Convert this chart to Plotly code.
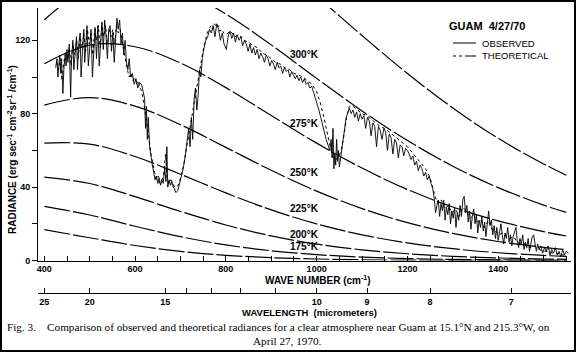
import plotly.graph_objects as go

# ---------------- data ----------------
obs_wn = [425,428,430,432,434,436,438,441,443,446,448,450,452,455,458,460,463,465,468,471,473,476,479,481,484,487,489,492,494,497,
          500,503,506,509,512,515,518,521,524,527,530,533,536,539,542,545,548,551,554,557,560,563,566,569,572,575,578,581,584,587,
          590,594,598,602,606,610,614,618,621,623,625,627,629,632,635,638,641,644,647,650,653,656,659,662,665,668,670,672,675,678,
          681,684,687,690,694,698,702,706,710,714,718,721,724,727,730,733,736,739,742,745,748,752,756,760,764,768,772,776,780,784,
          788,792,796,801,805,809,813,817,821,825,829,833,837,841,845,849,853,857,861,865,869,873,877,881,885,889,893,897,901,905,
          909,913,917,921,925,929,933,937,941,945,949,953,957,961,965,969,973,977,981,985,989,993,997,1001,1005,1009,1013,1017,1021,1025,
          1029,1032,1034,1036,1038,1040,1042,1044,1046,1048,1050,1053,1056,1059,1062,1065,1068,1072,1076,1080,1084,1088,1092,1096,1100,1104,1108,1112,1116,1120,
          1124,1128,1132,1136,1140,1144,1148,1152,1156,1160,1164,1168,1172,1176,1180,1184,1188,1192,1196,1200,1204,1208,1212,1216,1220,1224,1228,1232,1236,1240,
          1244,1248,1252,1256,1259,1262,1265,1268,1271,1274,1277,1280,1283,1286,1289,1292,1295,1298,1301,1304,1307,1310,1313,1316,1319,1322,1325,1328,1331,1334,
          1337,1340,1343,1346,1349,1352,1355,1358,1361,1364,1367,1370,1373,1376,1379,1382,1385,1388,1391,1394,1397,1400,1403,1406,1409,1412,1415,1418,1421,1424,
          1427,1430,1433,1436,1439,1442,1445,1448,1451,1454,1457,1460,1463,1466,1469,1472,1475,1478,1481,1484,1487,1490,1494,1498,1502,1506,1510,1514,1518,1522,
          1526,1530,1534,1538,1542,1546,1550,1555]
obs_rad = [105,110,100,108,112,102,110,91,104,112,106,115,108,118,89,110,120,104,116,122,104,118,124,100,114,126,108,120,128,106,
           118,126,100,116,127,110,128,106,122,130,115,131,122,110,126,128,114,124,108,122,132,126,131,118,124,112,120,108,104,110,
           100,102,96,99,94,97,96,92,88,72,84,66,78,62,56,52,48,44,46,42,45,41,44,42,50,43,62,40,44,41,
           43,40,39,37,38,42,46,50,56,64,72,62,78,66,88,94,82,90,104,100,110,116,120,122,126,124,128,122,129,126,
           120,124,118,115,122,125,121,124,119,123,120,122,117,120,118,114,118,113,116,112,115,110,113,111,108,112,110,106,109,107,
           104,108,105,106,102,105,103,104,100,103,101,99,101,98,100,97,99,96,97,94,95,92,89,86,82,78,73,70,66,63,
           60,66,56,72,50,58,52,66,54,60,51,56,62,68,74,78,80,83,80,82,78,81,76,80,77,79,72,78,76,68,
           75,73,62,73,71,66,72,70,60,69,67,58,66,64,56,63,62,57,61,60,58,55,57,52,54,49,52,50,46,48,
           44,46,42,39,34,26,30,33,24,31,27,33,22,29,25,31,20,27,23,29,18,26,22,30,24,33,35,26,30,21,
           27,17,24,28,20,25,15,22,18,24,16,21,13,20,27,19,22,14,19,12,18,11,16,20,14,9,15,12,18,10,
           14,8,13,16,18,11,7,12,9,14,6,10,7,12,5,9,13,14,8,5,9,6,8,4,7,5,8,3,6,4,
           7,3,5,2,6,3,5,4]

theo_wn = [427,431,435,439,443,447,451,455,459,463,467,471,475,479,483,487,491,495,499,503,507,511,515,519,523,527,531,535,539,543,
           547,551,555,559,563,567,571,575,579,583,587,591,595,599,603,607,611,615,619,623,627,631,635,639,643,647,651,655,659,663,
           667,671,675,679,683,687,691,695,699,703,707,711,715,719,723,727,731,735,739,743,747,751,755,759,763,767,771,775,779,783,
           787,791,795,800,810,820,830,840,850,860,870,880,890,900,910,920,930,940,950,960,970,980,990,1000,1008,1016,1024,1030,1036,1042,
           1048,1054,1060,1066,1072,1080,1090,1100,1110,1120,1130,1140,1150,1160,1170,1180,1190,1200,1210,1220,1230,1240,1250,1256,1262,1268,1275,1282,1290,1298,
           1306,1314,1322,1330,1338,1346,1354,1362,1370,1378,1386,1394,1402,1410,1418,1426,1434,1442,1450,1460,1470,1480,1490,1500,1510,1520,1530,1540,1550]
theo_rad = [108,104,110,98,108,114,110,116,106,118,112,120,110,122,116,124,114,126,118,124,112,126,120,128,116,128,122,128,118,126,
            122,126,118,128,124,126,120,114,108,104,100,102,98,100,96,98,94,92,86,80,74,66,58,52,48,44,46,42,44,46,
            58,44,42,44,42,40,40,41,44,48,52,58,64,70,76,82,88,94,98,104,110,116,120,124,126,128,126,129,127,128,
            125,126,124,123,125,122,123,120,119,117,116,113,112,110,108,107,105,104,102,101,100,98,96,92,86,78,68,62,56,55,
            56,60,68,78,84,84,82,80,79,77,75,73,72,70,68,66,64,62,59,56,53,50,45,40,34,31,33,28,30,26,
            28,24,29,27,23,25,21,22,18,22,17,16,14,15,13,12,13,10,9,9,7,8,6,5,5,4,4,3,3]

# blackbody reference curves (values tabulated per 100 cm-1)
bb_wn = [400, 500, 600, 700, 800, 900, 1000, 1100, 1200, 1300, 1400, 1500, 1550]
bb_325 = [None, None, None, None, None, 164.6, 144.0, 122.6, 101.9, 83.1, 66.6, 52.6, 46.5]
bb_300 = [131.2, 148.9, 153.4, 147.4, 134.3, 117.5, 99.25, 81.5, 65.4, 51.4, 39.7, 30.2, 26.2]
bb_275 = [107.2, 117.4, 116.5, 107.6, 94.2, 79.0, 63.96, 50.36, 38.7, 29.13, 21.56, 15.71, 13.34]
bb_250 = [84.7, 88.8, 84.1, 74.0, 61.65, 49.16, 37.83, 28.29, 20.63, 14.75, 10.36, 7.16, 5.93]
bb_225 = [64.0, 63.43, 56.66, 47.0, 36.82, 27.58, 19.93, 13.98, 9.58, 6.42, 4.23, 2.75, 2.20]
bb_200 = [45.45, 41.95, 34.80, 26.73, 19.37, 13.41, 8.95, 5.80, 3.67, 2.27, 1.38, 0.83, 0.64]
bb_175 = [29.53, 24.81, 18.67, 12.98, 8.50, 5.31, 3.20, 1.87, 1.07, 0.60, 0.33, 0.18, 0.13]
bb_150 = [16.79, 12.41, 8.17, 4.96, 2.84, 1.55, 0.81, 0.41, 0.21, 0.10, 0.05, 0.02, 0.01]

bb_labels = ["300°K", "275°K", "250°K", "225°K", "200°K", "175°K"]
bb_label_y = [112, 74.9, 47.7, 28.1, 14.4, 7.4]
bb_label_x = 973

wn_ticks = [400, 450, 500, 550, 600, 650, 700, 750, 800, 850, 900, 950, 1000, 1050, 1100, 1150,
            1200, 1250, 1300, 1350, 1400, 1450, 1500, 1550]
wn_labels = ["400", "", "", "", "600", "", "", "", "800", "", "", "", "1000", "", "", "",
             "1200", "", "", "", "1400", "", "", ""]
wl_ticks = [25, 20, 15, 14, 13, 12, 11, 10, 9, 8, 7]
wl_labels = ["25", "20", "15", "", "", "", "", "10", "9", "8", "7"]
rad_ticks = [0, 20, 40, 60, 80, 100, 120]
rad_labels = ["0", "", "40", "", "80", "", "120"]

XR = [386.1, 1560.4]
YR = [0, 137.6]
NARROW = "Liberation Sans Narrow, Arial Narrow, Liberation Sans, Arial, sans-serif"
SERIF = "Liberation Serif, Times New Roman, serif"

fig = go.Figure()

for vals in [bb_325, bb_300, bb_275, bb_250, bb_225, bb_200, bb_175, bb_150]:
    fig.add_trace(go.Scatter(x=bb_wn, y=vals, mode="lines", showlegend=False,
                             line=dict(color="black", width=1.2, dash="26px,3px", shape="spline", smoothing=1.0),
                             connectgaps=False, hoverinfo="skip"))

fig.add_trace(go.Scatter(x=theo_wn, y=theo_rad, mode="lines", name="THEORETICAL", showlegend=False,
                         line=dict(color="black", width=1, dash="dot")))
fig.add_trace(go.Scatter(x=obs_wn, y=obs_rad, mode="lines", name="OBSERVED", showlegend=False,
                         line=dict(color="black", width=0.9)))
# carrier trace for wavelength axis
fig.add_trace(go.Scatter(x=[XR[0]], y=[None], xaxis="x2", mode="lines", showlegend=False, hoverinfo="skip"))

ann = []
for lab, yv in zip(bb_labels, bb_label_y):
    ann.append(dict(x=bb_label_x, y=yv, xref="x", yref="y", text="<b>" + lab + "</b>", showarrow=False,
                    xanchor="center", yanchor="middle",
                    font=dict(family=NARROW, size=10, color="black")))

def px(xp):
    return (xp - 38) / 533.0

def py(yp):
    return (293 - yp) / 285.0

def pa(x, y, text, size, fam=NARROW, xanchor="center", **kw):
    return dict(x=px(x), y=py(y), xref="paper", yref="paper", showarrow=False, xanchor=xanchor,
                yanchor="middle", text=text, font=dict(family=fam, size=size, color="black"), **kw)

ann += [
    pa(318, 280, "<b>WAVE NUMBER (cm<sup>-1</sup>)</b>", 10),
    pa(309, 312, "<b>WAVELENGTH\u00a0\u00a0(micrometers)</b>", 9.5),
    pa(5, 327, "Fig. 3.\u00a0\u00a0\u00a0\u00a0Comparison of observed and theoretical radiances for a clear atmosphere near Guam at 15.1°N and 215.3°W, on",
       11.2, fam=SERIF, xanchor="left"),
    pa(287, 341, "April 27, 1970.", 11.2, fam=SERIF),
    pa(12, 150, "<b>RADIANCE (erg sec<sup>-1</sup> cm<sup>-2</sup>sr<sup>-1</sup> /cm<sup>-1</sup>)</b>", 10, textangle=-90),
    pa(487, 26, "<b>GUAM  4/27/70</b>", 11),
    pa(480, 43, "OBSERVED", 9.5, xanchor="left"),
    pa(480, 56, "THEORETICAL", 9.5, xanchor="left"),
]

shapes = [
    dict(type="line", xref="paper", yref="paper", x0=px(453), x1=px(476), y0=py(43), y1=py(43),
         line=dict(color="black", width=1)),
    dict(type="line", xref="paper", yref="paper", x0=px(453), x1=px(465), y0=py(56), y1=py(56),
         line=dict(color="black", width=1, dash="dot")),
    dict(type="line", xref="paper", yref="paper", x0=px(465), x1=px(476), y0=py(56), y1=py(56),
         line=dict(color="black", width=1)),
    dict(type="rect", xref="paper", yref="paper", x0=px(1), x1=px(575), y0=py(351), y1=py(1),
         line=dict(color="black", width=2), fillcolor="rgba(0,0,0,0)"),
]

fig.update_layout(
    width=576, height=352,
    margin=dict(l=38, r=5, t=8, b=59),
    paper_bgcolor="white", plot_bgcolor="white",
    showlegend=False,
    xaxis=dict(range=XR, anchor="y", showline=True, linecolor="black", linewidth=1,
               ticks="inside", ticklen=5, tickcolor="black", tickwidth=1,
               tickvals=wn_ticks, ticktext=wn_labels, showgrid=False, zeroline=False,
               tickfont=dict(family=NARROW, size=9, color="black", weight="bold")),
    xaxis2=dict(range=XR, overlaying="x", anchor="free", position=0, side="bottom",
                showline=True, linecolor="black", linewidth=1,
                ticks="inside", ticklen=5, tickcolor="black", tickwidth=1,
                tickvals=[10000.0 / w for w in wl_ticks], ticktext=wl_labels,
                showgrid=False, zeroline=False,
                tickfont=dict(family=NARROW, size=9, color="black", weight="bold")),
    yaxis=dict(range=YR, domain=[32.5 / 285.0, 1], showline=True, linecolor="black", linewidth=1,
               ticks="outside", ticklen=5, tickcolor="black", tickwidth=1,
               tickvals=rad_ticks, ticktext=rad_labels, showgrid=False, zeroline=False,
               tickfont=dict(family=NARROW, size=9, color="black", weight="bold")),
    annotations=ann,
    shapes=shapes,
)

fig.write_html("out.html")
